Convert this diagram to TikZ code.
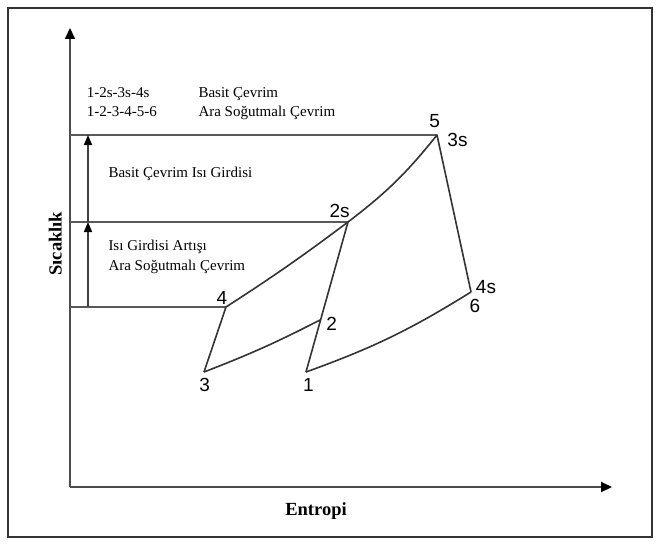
\documentclass[tikz,border=0pt]{standalone}
\usepackage{fontspec}
\setmainfont{Liberation Serif}
\newfontfamily\ptfont{Liberation Sans}
\usetikzlibrary{arrows.meta,calc}
\tikzset{
  curve/.style={draw=black!80, line width=1.6pt, line join=round},
  level/.style={draw=black!65, line width=2pt},
  axis/.style={draw=black!70, line width=2pt, -{Triangle[length=11pt,width=10pt,color=black]}},
  arr/.style={draw=black!75, line width=1.6pt, -{Triangle[length=10pt,width=8pt,color=black]}},
  txt/.style={anchor=base west, inner sep=0pt, font=\fontsize{15}{18}\selectfont},
  ptlbl/.style={inner sep=0pt, font=\ptfont\fontsize{19}{22}\selectfont},
  axlbl/.style={anchor=base, inner sep=0pt, font=\bfseries\fontsize{18.5}{22}\selectfont},
}
\begin{document}
\begin{tikzpicture}[x=1pt, y=-1pt]
  \useasboundingbox (0,0) rectangle (660,543);
  \draw[black!80, line width=1.5pt] (8,8) rectangle (652,537);

  \coordinate (o) at (70,487);
  \coordinate (ytip) at (70,28);
  \coordinate (xtip) at (612,487);
  \coordinate (q) at (88,0);
  \coordinate (p1) at (306,372);
  \coordinate (p2) at (320,320);
  \coordinate (p3) at (204,372);
  \coordinate (p4) at (226,307);
  \coordinate (p2s) at (348,222);
  \coordinate (p5) at (437,135);
  \coordinate (p6) at (471,292);

  \draw[axis] (o) -- (ytip);
  \draw[axis] (o) -- (xtip);

  \draw[level] (p5 -| o) -- (p5);
  \draw[level] (p2s -| o) -- (p2s);
  \draw[level] (p4 -| o) -- (p4);

  \draw[arr] (p4 -| q) -- (p2s -| q);
  \draw[arr] (p2s -| q) -- (p5 -| q);

  \draw[curve] (p3) -- (p4) to[bend right=2] (p2s) to[bend right=7] (p5) -- (p6);
  \draw[curve] (p1) -- (p2s);
  \draw[curve] (p3) to[bend right=3] (p2);
  \draw[curve] (p1) to[bend right=6] (p6);

  \node[txt] (c1) at (86.7,97.3) {1-2s-3s-4s};
  \node[txt] (n1) at (198.3,97.3) {Basit Çevrim};
  \node[txt] (c2) at (86.7,116) {1-2-3-4-5-6};
  \node[txt] (n2) at (198.3,116) {Ara Soğutmalı Çevrim};
  \node[txt] (qs) at (108.3,177.3) {Basit Çevrim Isı Girdisi};
  \node[txt] (qi) at (108.3,250.7) {Isı Girdisi Artışı};
  \node[txt] (qa) at (108.3,270.7) {Ara Soğutmalı Çevrim};

  \node[ptlbl] (l5) at (434.7,120.8) {5};
  \node[ptlbl] (l3s) at (457.5,140) {3s};
  \node[ptlbl] (l2s) at (339.7,211) {2s};
  \node[ptlbl] (l4) at (222,297.5) {4};
  \node[ptlbl] (l2) at (331.7,324) {2};
  \node[ptlbl] (l3) at (204.7,384.5) {3};
  \node[ptlbl] (l1) at (308.3,385) {1};
  \node[ptlbl] (l4s) at (486,287.5) {4s};
  \node[ptlbl] (l6) at (475,305.5) {6};

  \node[axlbl] (xl) at (316,515) {Entropi};
  \node[axlbl, rotate=90] (yl) at (61.5,243.6) {Sıcaklık};
\end{tikzpicture}
\end{document}
